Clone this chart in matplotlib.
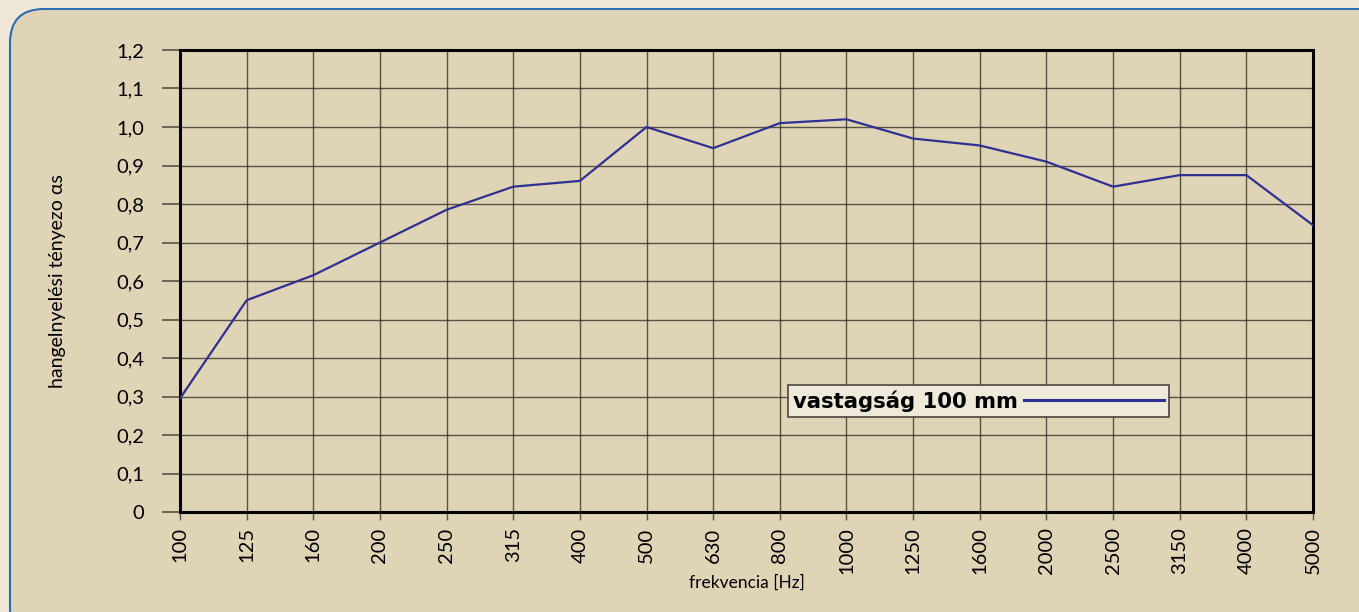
import matplotlib
matplotlib.use('Agg')
import matplotlib.pyplot as plt
from matplotlib.patches import FancyBboxPatch
import numpy as np

freqs = ['100', '125', '160', '200', '250', '315', '400', '500', '630', '800',
         '1000', '1250', '1600', '2000', '2500', '3150', '4000', '5000']
alpha_s = [0.295, 0.55, 0.615, 0.70, 0.785, 0.845, 0.86, 1.00, 0.945, 1.01,
           1.02, 0.97, 0.952, 0.91, 0.845, 0.875, 0.875, 0.745]
y_ticks = [0, 0.1, 0.2, 0.3, 0.4, 0.5, 0.6, 0.7, 0.8, 0.9, 1.0, 1.1, 1.2]
y_labels = ['0', '0,1', '0,2', '0,3', '0,4', '0,5', '0,6', '0,7', '0,8', '0,9', '1,0', '1,1', '1,2']

plt.rcParams['font.family'] = ['Lato', 'DejaVu Sans']

fig = plt.figure(figsize=(13.59, 6.12), dpi=100)
fig.patch.set_facecolor('#efe8d8')

# rounded panel behind the chart
panel = FancyBboxPatch((10 / 1359, -0.05), 1.2, 1.0 - 9 / 612 + 0.05,
                       boxstyle='round,pad=0,rounding_size=0.025',
                       transform=fig.transFigure, facecolor='#e0d4b6',
                       edgecolor='#2a6db5', linewidth=1.5, mutation_aspect=1359 / 612,
                       zorder=-5)
fig.add_artist(panel)

ax = fig.add_axes([180 / 1359, 100 / 612, 1133 / 1359, 462 / 612])
ax.set_zorder(2)
ax.set_facecolor('#e0d4b6')

x = np.arange(len(freqs))
ax.plot(x, alpha_s, color='#2e3192', lw=1.6, label='vastagság 100 mm', zorder=3)

ax.set_xlim(0, len(freqs) - 1)
ax.set_ylim(0, 1.2)
ax.set_xticks(x)
ax.set_xticklabels(freqs, rotation=90, fontsize=14.5)
ax.set_yticks(y_ticks)
ax.set_yticklabels(y_labels, fontsize=14.5)
ax.tick_params(axis='y', length=13, width=1.2, color='#5a5448', pad=13)
ax.tick_params(axis='x', length=6, width=1.0, color='#5a5448', pad=5)
ax.grid(True, color='#2b2620', lw=1.0, alpha=0.75)
ax.set_axisbelow(True)
for s in ax.spines.values():
    s.set_linewidth(2.2)
    s.set_color('black')

ax.set_xlabel('frekvencia [Hz]', fontsize=12.5, labelpad=0)
ax.set_ylabel('hangelnyelési tényezo αs', fontsize=14, labelpad=36)

leg = ax.legend(loc='lower left', bbox_to_anchor=(608 / 1133, 95 / 462), markerfirst=False,
                handlelength=6.6, handletextpad=0.3, borderpad=0.25, borderaxespad=0,
                fancybox=False, framealpha=1,
                prop={'family': 'DejaVu Sans', 'weight': 'bold', 'size': 15.2})
leg.get_frame().set_facecolor('#efe9d9')
leg.get_frame().set_edgecolor('#4a4640')
leg.get_frame().set_linewidth(1.2)
for h in leg.get_lines():
    h.set_linewidth(2.2)

fig.savefig('out.png', dpi=100, facecolor=fig.get_facecolor())
